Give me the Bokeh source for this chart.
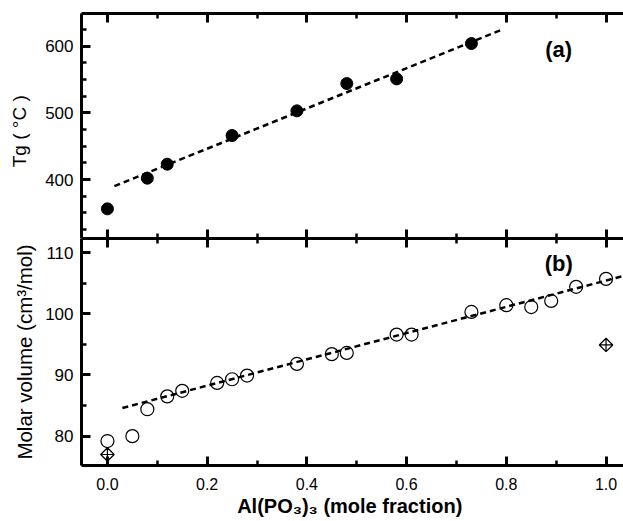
import math
from bokeh.plotting import figure
from bokeh.layouts import column
from bokeh.models import (Range1d, SingleIntervalTicker, LinearAxis, Label,
                          CustomJSTickFormatter, PrintfTickFormatter)
from bokeh.embed import file_html
from bokeh.resources import INLINE

# ---- data ----
tg_x = [0.0, 0.08, 0.12, 0.25, 0.38, 0.48, 0.58, 0.73]
tg_y = [356, 402, 423, 466, 503, 544, 551, 604]
tg_fit_x = [0.014, 0.793]
tg_fit_y = [390, 625.5]

mv_x = [0.0, 0.05, 0.08, 0.12, 0.15, 0.22, 0.25, 0.28, 0.38, 0.45, 0.48,
        0.58, 0.61, 0.73, 0.80, 0.85, 0.89, 0.94, 1.0]
mv_y = [79.2, 80.0, 84.4, 86.5, 87.4, 88.7, 89.3, 89.9, 91.8, 93.4, 93.6,
        96.6, 96.6, 100.3, 101.4, 101.1, 102.1, 104.4, 105.7]
mv_ref_x = [0.0, 1.0]
mv_ref_y = [77.0, 94.9]
mv_fit_x = [0.03, 1.05]
mv_fit_y = [84.6, 106.5]

x_label = "Al(PO₃)₃  (mole fraction)"
tg_label = "Tg  ( °C  )"
mv_label = "Molar volume (cm³/mol)"

FONT = "Liberation Sans"
xr = Range1d(-0.052, 1.035)
FRAME_W = 542
LEFT = 81


def style(ax, labels=True, size="17px"):
    ax.axis_line_width = 3
    ax.axis_line_color = "black"
    ax.major_tick_in = 9
    ax.major_tick_out = 0
    ax.minor_tick_in = 5
    ax.minor_tick_out = 0
    ax.major_tick_line_width = 3
    ax.minor_tick_line_width = 2.5
    ax.major_tick_line_color = "black"
    ax.minor_tick_line_color = "black"
    ax.major_label_text_font = FONT
    ax.major_label_text_color = "black"
    ax.axis_label_text_font = FONT
    ax.axis_label_text_color = "black"
    ax.axis_label_text_font_style = "normal"
    if labels:
        ax.major_label_text_font_size = size
    else:
        ax.major_label_text_font_size = "0px"
        ax.major_label_standoff = 0
        ax.formatter = CustomJSTickFormatter(code="return ''")


def xticker():
    return SingleIntervalTicker(interval=0.2, num_minor_ticks=2)


# ---------- top panel ----------
top = figure(frame_width=FRAME_W, frame_height=225, x_range=xr,
             y_range=Range1d(311.5, 649.1),
             x_axis_location=None, y_axis_location=None,
             output_backend="svg", toolbar_location=None,
             min_border_left=LEFT, min_border_right=0,
             min_border_top=13, min_border_bottom=0)
top.outline_line_color = None
top.background_fill_color = "white"
top.border_fill_color = "white"
top.grid.grid_line_color = None

ly = LinearAxis(ticker=SingleIntervalTicker(interval=100, num_minor_ticks=4),
                axis_label=tg_label)
style(ly)
ly.major_label_standoff = 8
ly.axis_label_text_font_size = "19px"
ly.axis_label_standoff = 12
top.add_layout(ly, "left")

ta = LinearAxis(ticker=xticker())
style(ta, labels=False)
top.add_layout(ta, "above")
tb = LinearAxis(ticker=xticker())
style(tb, labels=False)
top.add_layout(tb, "below")

top.line(tg_fit_x, tg_fit_y, line_dash="6 4", line_width=2.5, line_color="black")
top.scatter(tg_x, tg_y, marker="circle", size=12, fill_color="black", line_color="black")
top.add_layout(Label(x=0.905, y=595, text="(a)", text_font=FONT, text_font_size="22px",
                     text_font_style="bold", text_color="black",
                     text_align="center", text_baseline="middle"))

# ---------- bottom panel ----------
bot = figure(frame_width=FRAME_W, frame_height=227, x_range=xr,
             y_range=Range1d(75.2, 112.3),
             x_axis_location=None, y_axis_location=None,
             output_backend="svg", toolbar_location=None,
             min_border_left=LEFT, min_border_right=0,
             min_border_top=0, min_border_bottom=52)
bot.outline_line_color = None
bot.background_fill_color = "white"
bot.border_fill_color = "white"
bot.grid.grid_line_color = None

by = LinearAxis(ticker=SingleIntervalTicker(interval=10, num_minor_ticks=2),
                axis_label=mv_label)
style(by)
by.major_label_standoff = 8
by.axis_label_text_font_size = "20.5px"
by.axis_label_standoff = 6
bot.add_layout(by, "left")

ba = LinearAxis(ticker=xticker())
style(ba, labels=False)
bot.add_layout(ba, "above")

bx = LinearAxis(ticker=xticker(), axis_label=x_label,
                formatter=PrintfTickFormatter(format="%.1f"))
style(bx, size="16px")
bx.major_label_standoff = 12
bx.axis_label_text_font_size = "20px"
bx.axis_label_text_font_style = "bold"
bx.axis_label_standoff = 2
bot.add_layout(bx, "below")

bot.line(mv_fit_x, mv_fit_y, line_dash="6 4", line_width=2.5, line_color="black")
bot.scatter(mv_x, mv_y, marker="circle", size=13, fill_color=None,
            line_color="black", line_width=1.2)
bot.scatter(mv_ref_x, mv_ref_y, marker="square_x", size=9.5, angle=math.pi / 4,
            fill_color=None, line_color="black", line_width=1.2)
bot.add_layout(Label(x=0.905, y=108.2, text="(b)", text_font=FONT, text_font_size="22px",
                     text_font_style="bold", text_color="black",
                     text_align="center", text_baseline="middle"))

layout = column(top, bot, spacing=0)
open("out.html", "w").write(file_html(layout, INLINE))
